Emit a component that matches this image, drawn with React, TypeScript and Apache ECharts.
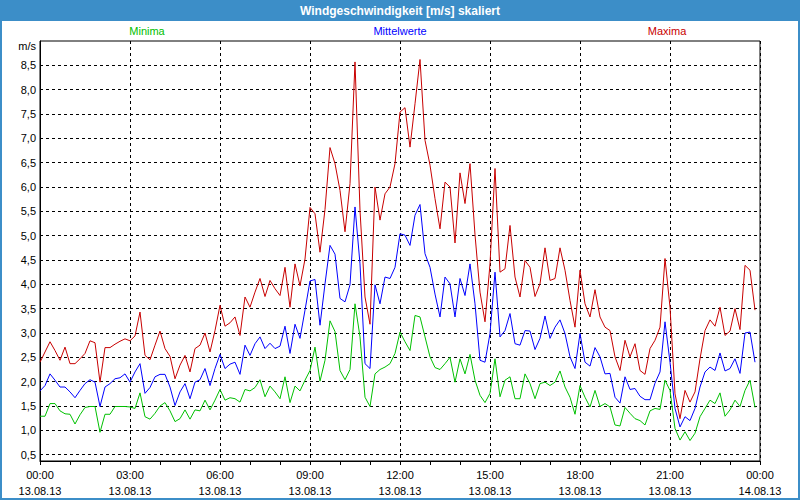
import React, { useEffect, useRef } from "react";
import * as echarts from "echarts";

const TITLE = "Windgeschwindigkeit [m/s] skaliert";
const UNIT = "m/s";
const SERIES_NAMES = ["Minima", "Mittelwerte", "Maxima"];
const SERIES_COLORS = ["#00c000", "#0000ff", "#c80000"];
const STEP_MINUTES = 10;

const minima = [
  1.29, 1.29, 1.55, 1.55, 1.4, 1.34, 1.33, 1.13, 1.32, 1.47, 1.49, 1.49, 0.96, 1.33, 1.33, 1.49, 1.49, 1.49, 1.48, 1.45, 1.77, 1.28, 1.23, 1.35, 1.5,
  1.57, 1.4, 1.18, 1.24, 1.42, 1.23, 1.42, 1.4, 1.62, 1.42, 1.62, 1.84, 1.62, 1.67, 1.65, 1.58, 1.84, 1.81, 1.88, 2.04, 1.69, 1.91, 1.79, 1.65,
  2.1, 1.57, 1.91, 1.81, 2.03, 2.23, 2.71, 2.01, 2.44, 3.25, 3.03, 2.23, 2.04, 2.25, 3.6, 2.92, 1.68, 1.49, 2.16, 2.25, 2.3, 2.37, 2.58, 3.02,
  2.82, 2.64, 3.36, 3.33, 2.92, 2.51, 2.29, 2.25, 2.37, 2.5, 1.99, 2.47, 2.16, 2.56, 2.03, 1.72, 1.57, 1.76, 2.47, 1.69, 2.03, 2.1, 1.65, 1.65,
  2.16, 1.96, 1.65, 1.96, 1.99, 1.92, 1.99, 2.22, 1.89, 1.68, 1.33, 1.92, 1.68, 1.48, 1.82, 1.49, 1.55, 1.48, 1.11, 1.09, 1.47, 1.35, 1.24, 1.2,
  1.11, 1.4, 1.45, 1.43, 2.03, 1.82, 1.04, 0.8, 0.97, 0.79, 0.94, 1.28, 1.45, 1.62, 1.55, 1.77, 1.29, 1.42, 1.62, 1.49, 1.82, 2.03, 1.47,
];

const mittelwerte = [
  1.81, 1.92, 2.16, 2.03, 1.89, 1.89, 1.79, 1.67, 1.82, 1.96, 2.04, 1.99, 1.49, 1.89, 1.96, 2.06, 2.08, 2.16, 1.99, 2.2, 2.37, 1.76, 1.88, 2.1, 2.15,
  2.15, 1.89, 1.51, 1.79, 1.96, 1.65, 1.99, 2.04, 2.27, 1.92, 2.27, 2.56, 2.27, 2.36, 2.4, 2.15, 2.75, 2.54, 2.78, 2.92, 2.68, 2.79, 2.68, 2.73,
  3.14, 2.58, 3.18, 2.89, 3.47, 4.07, 4.1, 3.16, 4.01, 4.8, 4.62, 3.71, 3.64, 3.99, 5.59, 4.42, 2.37, 2.27, 3.99, 3.6, 4.15, 4.12, 4.35, 5.04,
  5.01, 4.8, 5.42, 5.64, 4.63, 4.35, 3.8, 3.33, 4.15, 4.01, 3.33, 4.12, 3.77, 4.42, 3.6, 2.44, 2.4, 2.99, 4.25, 2.92, 3.05, 3.4, 2.78, 2.75,
  3.05, 3.04, 2.66, 2.89, 3.35, 2.89, 3.12, 3.27, 2.99, 2.51, 2.27, 2.99, 2.4, 2.32, 2.7, 2.51, 2.16, 2.17, 1.68, 1.56, 2.1, 1.84, 1.86, 1.7,
  1.63, 1.63, 1.97, 2.2, 3.23, 2.4, 1.45, 1.07, 1.28, 1.2, 1.45, 1.89, 2.2, 2.3, 2.23, 2.59, 2.22, 2.27, 2.47, 2.17, 3.0, 3.02, 2.4,
];

const maxima = [
  2.4, 2.61, 2.82, 2.64, 2.44, 2.71, 2.37, 2.37, 2.47, 2.58, 2.84, 2.8, 1.99, 2.7, 2.7, 2.77, 2.83, 2.88, 2.84, 2.94, 3.43, 2.54, 2.45, 2.75, 3.04,
  2.68, 2.52, 2.06, 2.34, 2.54, 2.2, 2.68, 2.75, 3.0, 2.61, 3.05, 3.57, 3.14, 3.21, 3.33, 2.95, 3.74, 3.53, 3.84, 4.12, 3.75, 4.08, 3.91, 3.77,
  4.35, 3.53, 4.42, 3.97, 4.52, 5.58, 5.45, 4.66, 5.54, 6.81, 6.48, 5.93, 5.08, 6.07, 8.57, 5.52, 3.74, 3.18, 6.0, 5.32, 5.86, 6.0, 6.48, 7.54,
  7.63, 6.82, 7.71, 8.62, 6.96, 6.45, 5.76, 5.14, 6.1, 6.0, 4.85, 6.29, 5.66, 6.48, 5.02, 3.84, 3.23, 4.42, 6.38, 4.25, 4.32, 5.21, 4.15, 3.74,
  4.49, 4.35, 3.75, 4.01, 4.75, 4.08, 4.12, 4.75, 4.29, 3.67, 3.12, 4.29, 3.6, 3.33, 3.89, 3.33, 3.12, 3.05, 2.51, 2.23, 2.85, 2.51, 2.78, 2.23,
  2.15, 2.68, 2.85, 3.12, 4.53, 3.53, 1.75, 1.24, 1.82, 1.58, 1.79, 2.47, 3.05, 3.27, 3.14, 3.53, 2.95, 3.04, 3.5, 3.07, 4.39, 4.29, 3.47,
];

const yTicks = [0.5, 1.0, 1.5, 2.0, 2.5, 3.0, 3.5, 4.0, 4.5, 5.0, 5.5, 6.0, 6.5, 7.0, 7.5, 8.0, 8.5];
const xTicks = [0, 180, 360, 540, 720, 900, 1080, 1260, 1440];
const xTimeLabels = ["00:00", "03:00", "06:00", "09:00", "12:00", "15:00", "18:00", "21:00", "00:00"];
const xDateLabels = ["13.08.13", "13.08.13", "13.08.13", "13.08.13", "13.08.13", "13.08.13", "13.08.13", "13.08.13", "14.08.13"];

const FONT = "'Liberation Sans', Arial, sans-serif";

export default function App() {
  const ref = useRef<HTMLDivElement>(null);

  useEffect(() => {
    if (!ref.current) return;
    const chart = echarts.init(ref.current, null, { renderer: "svg" });
    const toPairs = (arr: number[]) => arr.map((v, i) => [i * STEP_MINUTES, v]);
    const allSeries = [minima, mittelwerte, maxima];

    const option = {
      animation: false,
      backgroundColor: "#ffffff",
      textStyle: { fontFamily: FONT },
      grid: {
        left: 40,
        right: 40,
        top: 41,
        bottom: 39,
        show: true,
        borderColor: "#000",
        borderWidth: 1,
        backgroundColor: "transparent",
      },
      xAxis: {
        type: "value",
        min: 0,
        max: 1440,
        interval: 180,
        axisLine: { show: true, lineStyle: { color: "#000", width: 1 } },
        axisTick: { show: true, length: 4, lineStyle: { color: "#000" } },
        minorTick: { show: true, splitNumber: 3, length: 4, lineStyle: { color: "#000" } },
        splitLine: { show: true, lineStyle: { color: "#000", type: [3, 3], width: 1 } },
        axisLabel: {
          margin: 6,
          fontSize: 11,
          color: "#000",
          lineHeight: 16,
          fontFamily: FONT,
          showMinLabel: true,
          showMaxLabel: true,
          formatter: (v: number) => {
            const k = xTicks.indexOf(v);
            return k >= 0 ? xTimeLabels[k] + "\n" + xDateLabels[k] : "";
          },
        },
      },
      yAxis: {
        type: "value",
        min: 0.37,
        max: 9.0,
        axisLine: { show: true, lineStyle: { color: "#000", width: 1 } },
        axisTick: { show: false, customValues: yTicks },
        axisLabel: {
          customValues: yTicks,
          margin: 4,
          fontSize: 11,
          color: "#000",
          fontFamily: FONT,
          formatter: (v: number) => v.toFixed(1).replace(".", ","),
        },
        splitLine: { show: true, lineStyle: { color: "#000", type: [3, 3], width: 1 } },
      },
      series: SERIES_NAMES.map((name, k) => ({
        name,
        type: "line",
        data: toPairs(allSeries[k]),
        showSymbol: false,
        symbol: "none",
        lineStyle: { color: SERIES_COLORS[k], width: 1 },
        itemStyle: { color: SERIES_COLORS[k] },
        z: 3 + k,
      })),
      graphic: [
        {
          type: "rect",
          shape: { x: 1, y: 1, width: 798, height: 498 },
          style: { fill: "none", stroke: "#3c8ec8", lineWidth: 2 },
          z: 10,
        },
        {
          type: "rect",
          shape: { x: 0, y: 0, width: 800, height: 21 },
          style: { fill: "#3c8ec8" },
          z: 11,
        },
        {
          type: "text",
          x: 400,
          y: 11,
          style: {
            text: TITLE,
            fill: "#fff",
            font: `bold 12px ${FONT}`,
            align: "center",
            verticalAlign: "middle",
          },
          z: 12,
        },
        ...[147, 400, 667].map((cx, k) => ({
          type: "text",
          x: cx,
          y: 31,
          style: {
            text: SERIES_NAMES[k],
            fill: SERIES_COLORS[k],
            font: `11px ${FONT}`,
            align: "center",
            verticalAlign: "middle",
          },
        })),
        {
          type: "text",
          x: 36,
          y: 46,
          style: {
            text: UNIT,
            fill: "#000",
            font: `11px ${FONT}`,
            align: "right",
            verticalAlign: "middle",
          },
        },
      ],
    };

    chart.setOption(option as any);
    return () => chart.dispose();
  }, []);

  return (
    <div
      ref={ref}
      style={{ position: "fixed", left: 0, top: 0, width: 800, height: 500 }}
    />
  );
}
